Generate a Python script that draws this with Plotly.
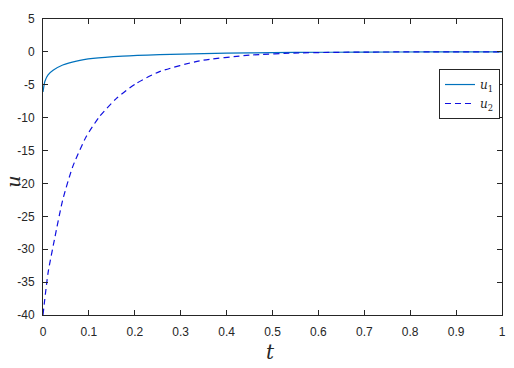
import plotly.graph_objects as go

# data
t1 = [0, 0.004, 0.011, 0.022, 0.043, 0.073, 0.109, 0.174, 0.254, 0.35, 0.45, 0.55, 0.7, 0.85, 1.0]
u1 = [-6.1, -4.5, -3.5, -2.8, -2.0, -1.4, -1.0, -0.65, -0.42, -0.25, -0.15, -0.08, -0.03, -0.01, 0]

t2 = [0, 0.011, 0.025, 0.043, 0.065, 0.094, 0.123, 0.16, 0.203, 0.254, 0.341, 0.45, 0.558, 0.7, 0.85, 1.0]
u2 = [-40, -33.6, -28.5, -22.5, -17.4, -12.9, -9.85, -7.06, -4.8, -3.0, -1.36, -0.5, -0.15, -0.03, 0, 0]

xticks = [0, 0.1, 0.2, 0.3, 0.4, 0.5, 0.6, 0.7, 0.8, 0.9, 1]
xticklabels = ["0", "0.1", "0.2", "0.3", "0.4", "0.5", "0.6", "0.7", "0.8", "0.9", "1"]
yticks = [5, 0, -5, -10, -15, -20, -25, -30, -35, -40]
yticklabels = ["5", "0", "-5", "-10", "-15", "-20", "-25", "-30", "-35", "-40"]

fig = go.Figure()
fig.add_trace(go.Scatter(x=t1, y=u1, mode="lines", name="<i>u</i><sub>1</sub>",
                         line=dict(color="#0072BD", width=1.2, shape="spline", smoothing=0.6)))
fig.add_trace(go.Scatter(x=t2, y=u2, mode="lines", name="<i>u</i><sub>2</sub>",
                         line=dict(color="#1010E0", width=1.2, dash="6px,4px", shape="spline", smoothing=0.6)))

axis_common = dict(showgrid=False, zeroline=False, showline=True, linecolor="#262626", linewidth=1,
                   mirror="ticks", ticks="inside", ticklen=5, tickcolor="#262626", automargin=False,
                   tickfont=dict(family="Liberation Sans, Arial", size=12, color="#262626"))

fig.update_xaxes(range=[0, 1], tickvals=xticks, ticktext=xticklabels, ticklabelstandoff=6, **axis_common)
fig.update_yaxes(range=[-40, 5], tickvals=yticks, ticktext=yticklabels, ticklabelstandoff=5, **axis_common)

fig.update_layout(
    width=514, height=368,
    margin=dict(l=43, r=12, t=19, b=53),
    paper_bgcolor="white", plot_bgcolor="white",
    legend=dict(x=0.9956, xanchor="right", y=0.831, yanchor="top",
                bgcolor="white", bordercolor="#262626", borderwidth=1,
                font=dict(family="DejaVu Serif, serif", size=12, color="#262626"),
                itemwidth=30, tracegroupgap=0),
    annotations=[
        dict(text="<i>t</i>", xref="paper", yref="paper", x=0.496, y=-0.125, xanchor="center", yanchor="middle",
             showarrow=False, font=dict(family="DejaVu Serif, serif", size=20, color="#262626")),
        dict(text="<i>u</i>", xref="paper", yref="paper", x=-0.066, y=0.449, xanchor="center", yanchor="middle",
             textangle=-90, showarrow=False, font=dict(family="DejaVu Serif, serif", size=19, color="#262626")),
    ],
)

fig.write_html("out.html", config={"displayModeBar": False},
               post_script="document.body.style.margin='0';document.body.style.overflow='hidden';")
